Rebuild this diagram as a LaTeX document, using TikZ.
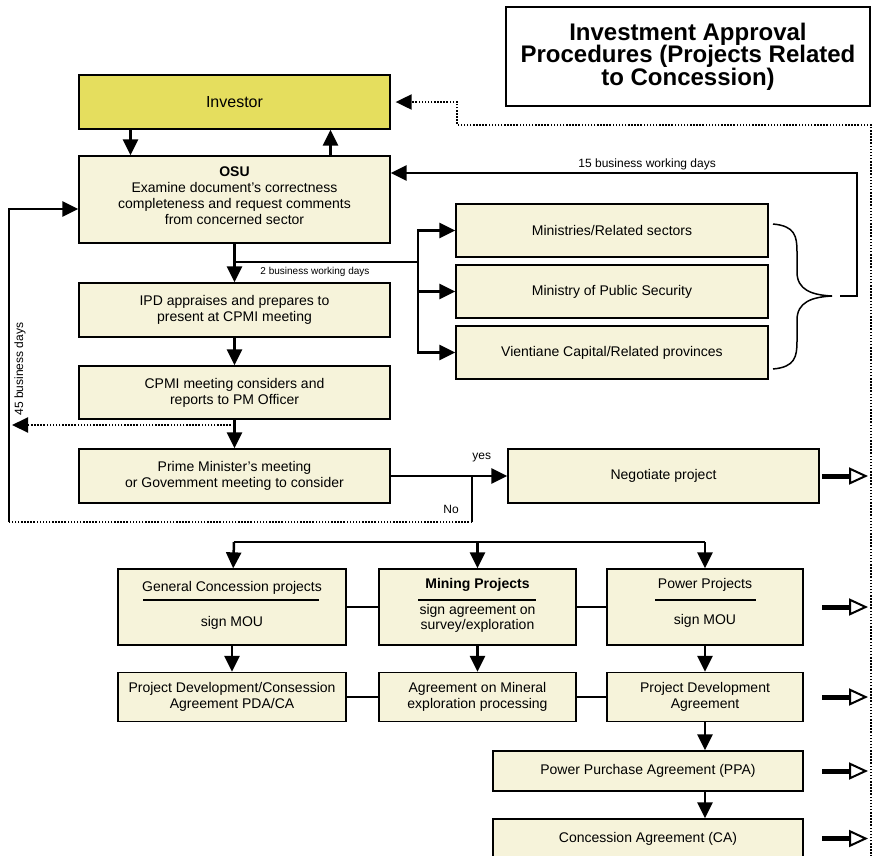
\documentclass[tikz,border=0pt]{standalone}
\usepackage{fontspec}
\setmainfont{Liberation Sans}
\usetikzlibrary{positioning, arrows.meta}
\definecolor{boxfill}{RGB}{246,243,218}
\definecolor{invfill}{RGB}{229,222,94}

\begin{document}
\begin{tikzpicture}
        [x=1pt, y=-1pt,
         box/.style={draw, line width=1.3pt, fill=boxfill, align=center, inner sep=0pt,
                     font=\fontsize{14}{16}\selectfont},
         txt/.style={align=center, inner sep=0pt, font=\fontsize{14}{16}\selectfont},
         small/.style={inner sep=0pt, font=\fontsize{12}{14}\selectfont},
         link/.style={line width=2.5pt},
         sidelink/.style={line width=1.6pt},
         dots/.style={line width=2pt, dash pattern=on 1.5pt off 1.6pt},
         hollow/.style={line width=5pt, -{Triangle[open, fill=white, length=19pt, width=17pt, line width=2pt]}},
         >={Triangle[length=16pt, width=15pt]}]
        \useasboundingbox (0,0) rectangle (873,855);
        \clip (0,0) rectangle (873,855);

        \node[draw, line width=1.3pt, minimum width=364pt, minimum height=99pt, align=center,
              font=\fontsize{24}{22.5}\selectfont\bfseries] (title) at (688,56.5)
              {Investment Approval\\Procedures (Projects Related\\to Concession)};

        \node[box, fill=invfill, minimum width=311pt, minimum height=54pt,
              font=\fontsize{16}{18}\selectfont] (inv) at (234.5,102) {Investor};
        \node[box, minimum width=311pt, minimum height=87pt,
              label={[txt, yshift=4pt]center:{\textbf{OSU}\\Examine document’s correctness\\completeness and request comments\\from concerned sector}}] (osu) at (234.5,199.5) {};
        \node[box, minimum width=311pt, minimum height=54pt] (ipd) at (234.5,310) {IPD appraises and prepares to\\present at CPMI meeting};
        \node[box, minimum width=311pt, minimum height=53pt] (cpmi) at (234.5,392.5) {CPMI meeting considers and\\reports to PM Officer};
        \node[box, minimum width=311pt, minimum height=54pt] (pm) at (234.5,476) {Prime Minister’s meeting\\or Govemment meeting to consider};

        \node[box, minimum width=312pt, minimum height=53pt] (sec1) at (612,230.5) {Ministries/Related sectors};
        \node[box, minimum width=312pt, minimum height=53pt] (sec2) at (612,291.5) {Ministry of Public Security};
        \node[box, minimum width=312pt, minimum height=53pt] (sec3) at (612,352.5) {Vientiane Capital/Related provinces};
        \node[box, minimum width=311pt, minimum height=54pt] (neg) at (663.5,476) {Negotiate project};

        \node[box, minimum width=228pt, minimum height=76pt,
              label={[txt, yshift=2pt]center:{General Concession projects\\[19pt]sign MOU}}] (gen) at (232,607) {};
        \node[box, minimum width=197pt, minimum height=76pt,
              label={[txt, yshift=2pt]center:{\textbf{Mining Projects}\\[10pt]sign agreement on\\[-1pt]survey/exploration}}] (mine) at (477.5,607) {};
        \node[box, minimum width=196pt, minimum height=76pt,
              label={[txt, yshift=4.5pt]center:{Power Projects\\[20pt]sign MOU}}] (pow) at (705,607) {};
        \node[box, minimum width=228pt, minimum height=49pt] (gdev) at (232,697) {Project Development/Consession\\Agreement PDA/CA};
        \node[box, minimum width=197pt, minimum height=49pt] (mdev) at (477.5,697) {Agreement on Mineral\\exploration processing};
        \node[box, minimum width=196pt, minimum height=49pt] (pdev) at (705,697) {Project Development\\Agreement};
        \node[box, minimum width=310pt, minimum height=40pt] (ppa) at (648,771) {Power Purchase Agreement (PPA)};
        \node[box, minimum width=310pt, minimum height=39pt] (ca) at (648,838.5) {Concession Agreement (CA)};

        \draw[line width=1.3pt] (143,600) -- (319,600);
        \draw[line width=1.3pt] (418,600) -- (536,600);
        \draw[line width=1.3pt] (655,600) -- (756,600);

        \draw[line width=1.5pt] (773,224) .. controls (795,226) and (797,236) .. (797,252) -- (797,272)
              .. controls (797,290) and (812,295) .. (832,296);
        \draw[line width=1.5pt] (832,296) .. controls (812,297) and (797,302) .. (797,320) -- (797,341)
              .. controls (797,357) and (795,367) .. (773,369);

        \coordinate (brace) at (840,296);
        \coordinate (split) at (234,262);
        \coordinate (fork) at (418,262);
        \coordinate (back) at (234,425);
        \coordinate (backend) at (12,425);
        \coordinate (yesno) at (472,476);
        \coordinate (loop) at (9,522);
        \coordinate (spread) at (234,542);
        \coordinate (spreadend) at (705,542);
        \coordinate (kink) at (457,125);
        \coordinate (railbot) at (871,860);
        \coordinate (startx) at (822,0);
        \coordinate (tipx) at (868,0);

        \path [link, ->] ([xshift=-104pt]inv.south) edge ([xshift=-104pt]osu.north);
        \path [link, ->] ([xshift=96pt]osu.north) edge ([xshift=96pt]inv.south);
        \draw [link, ->] (brace) -| (857,173) -- ([yshift=26.5pt]osu.east)
              node[small, pos=0.45, above=2pt] {15 business working days};
        \path [link, ->] (osu) edge (ipd);
        \draw [link] (split) -- (fork) node[pos=0.44, below=4pt, inner sep=0pt, font=\fontsize{10}{12}\selectfont] {2 business working days};
        \draw [link, ->] (fork) |- (sec1);
        \draw [link, ->] (fork) |- (sec2);
        \draw [link, ->] (fork) |- (sec3);
        \path [link, ->] (ipd) edge (cpmi);
        \path [link, ->] (cpmi) edge (pm);
        \draw [dots, ->] (back) -- (backend);
        \path [link, ->] (pm) edge node[small, pos=0.78, above=13pt] {yes} (neg);
        \draw [link] (yesno) -- (yesno |- loop) node[small, pos=0.72, left=12pt] {No};
        \draw [dots] (yesno |- loop) -- (loop);
        \draw [link, ->] (loop) |- ([yshift=-9.5pt]osu.west);
        \node[small, rotate=90] (days) at (20,369) {45 business days};

        \draw [link] (spread) -- (spreadend);
        \path [link, ->] (spread) edge (gen);
        \path [link, ->] (spread -| mine) edge (mine);
        \path [link, ->] (spreadend) edge (pow);
        \path [link, ->] (gen) edge (gdev);
        \path [link, ->] (mine) edge (mdev);
        \path [link, ->] (pow) edge (pdev);
        \path [link, ->] (pdev) edge (pdev |- ppa.north);
        \path [link, ->] (pdev |- ppa.south) edge (pdev |- ca.north);
        \path [sidelink] (gen) edge (mine) (mine) edge (pow);
        \path [sidelink] (gdev) edge (mdev) (mdev) edge (pdev);

        \draw [dots, ->] (railbot) |- (kink) |- ([xshift=5pt]inv.east);
        \draw [hollow] (startx |- neg.east) -- (tipx |- neg.east);
        \draw [hollow] (startx |- pow.east) -- (tipx |- pow.east);
        \draw [hollow] (startx |- pdev.east) -- (tipx |- pdev.east);
        \draw [hollow] (startx |- ppa.east) -- (tipx |- ppa.east);
        \draw [hollow] (startx |- ca.east) -- (tipx |- ca.east);
\end{tikzpicture}
\end{document}
